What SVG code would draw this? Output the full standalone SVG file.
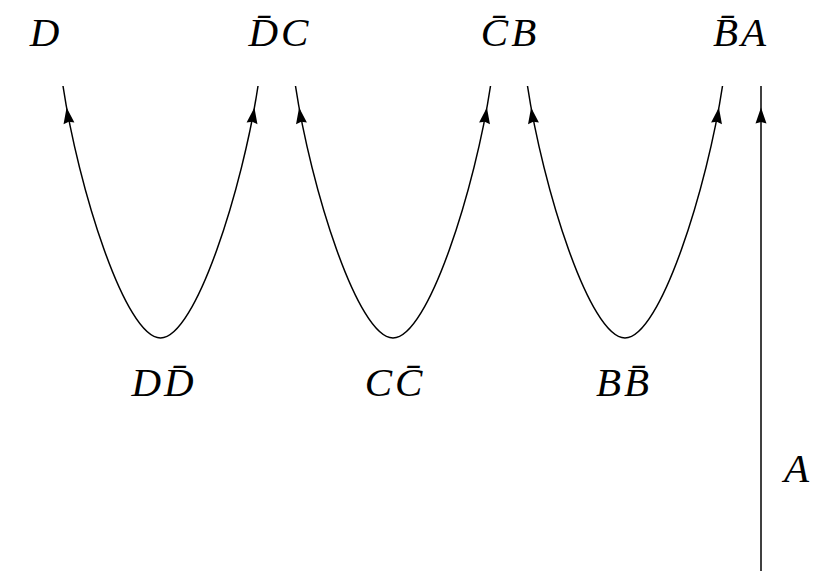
<svg xmlns="http://www.w3.org/2000/svg" xmlns:xlink="http://www.w3.org/1999/xlink" width="831" height="571" viewBox="0 0 831 571">
<style>
.lbl{font-family:"Liberation Serif","DejaVu Serif",serif;font-style:italic;font-size:41px;letter-spacing:3px;fill:#000;}
.edge{fill:none;stroke:#000;stroke-width:1.5;}
.ah{fill:#000;}
</style>
<defs>
<path id="ah" d="M0,0 L5.5,16 L0,14.5 L-5.5,16 Z"/>
</defs>
<rect width="831" height="571" fill="#fff"/>
<g id="connectors">
<path class="edge" d="M63,86 C78,186 125,338 160.5,338 C196,338 243,186 258,86"/>
<path class="edge" d="M295.5,86 C310.5,186 357.5,338 393,338 C428.5,338 475.5,186 490.5,86"/>
<path class="edge" d="M527.5,86 C542.5,186 589.5,338 625,338 C660.5,338 707.5,186 722.5,86"/>
<path class="edge" d="M761,571 L761,86"/>
<use xlink:href="#ah" class="ah" transform="translate(66.6,107.5) rotate(-8.5)"/>
<use xlink:href="#ah" class="ah" transform="translate(254.4,107.5) rotate(8.5)"/>
<use xlink:href="#ah" class="ah" transform="translate(299.1,107.5) rotate(-8.5)"/>
<use xlink:href="#ah" class="ah" transform="translate(486.9,107.5) rotate(8.5)"/>
<use xlink:href="#ah" class="ah" transform="translate(531.1,107.5) rotate(-8.5)"/>
<use xlink:href="#ah" class="ah" transform="translate(718.9,107.5) rotate(8.5)"/>
<use xlink:href="#ah" class="ah" transform="translate(761,107.5)"/>
</g>
<g id="n-D"><text class="lbl" x="46" y="46" text-anchor="middle">D</text></g>
<g id="n-DbarC"><text class="lbl" x="280" y="46" text-anchor="middle">D̄C</text></g>
<g id="n-CbarB"><text class="lbl" x="510" y="46" text-anchor="middle">C̄B</text></g>
<g id="n-BbarA"><text class="lbl" x="741" y="46" text-anchor="middle">B̄A</text></g>
<g id="n-DDbar"><text class="lbl" x="164" y="396" text-anchor="middle">DD̄</text></g>
<g id="n-CCbar"><text class="lbl" x="395" y="396" text-anchor="middle">CC̄</text></g>
<g id="n-BBbar"><text class="lbl" x="624" y="396" text-anchor="middle">BB̄</text></g>
<g id="n-A"><text class="lbl" x="798" y="482" text-anchor="middle">A</text></g>
</svg>
